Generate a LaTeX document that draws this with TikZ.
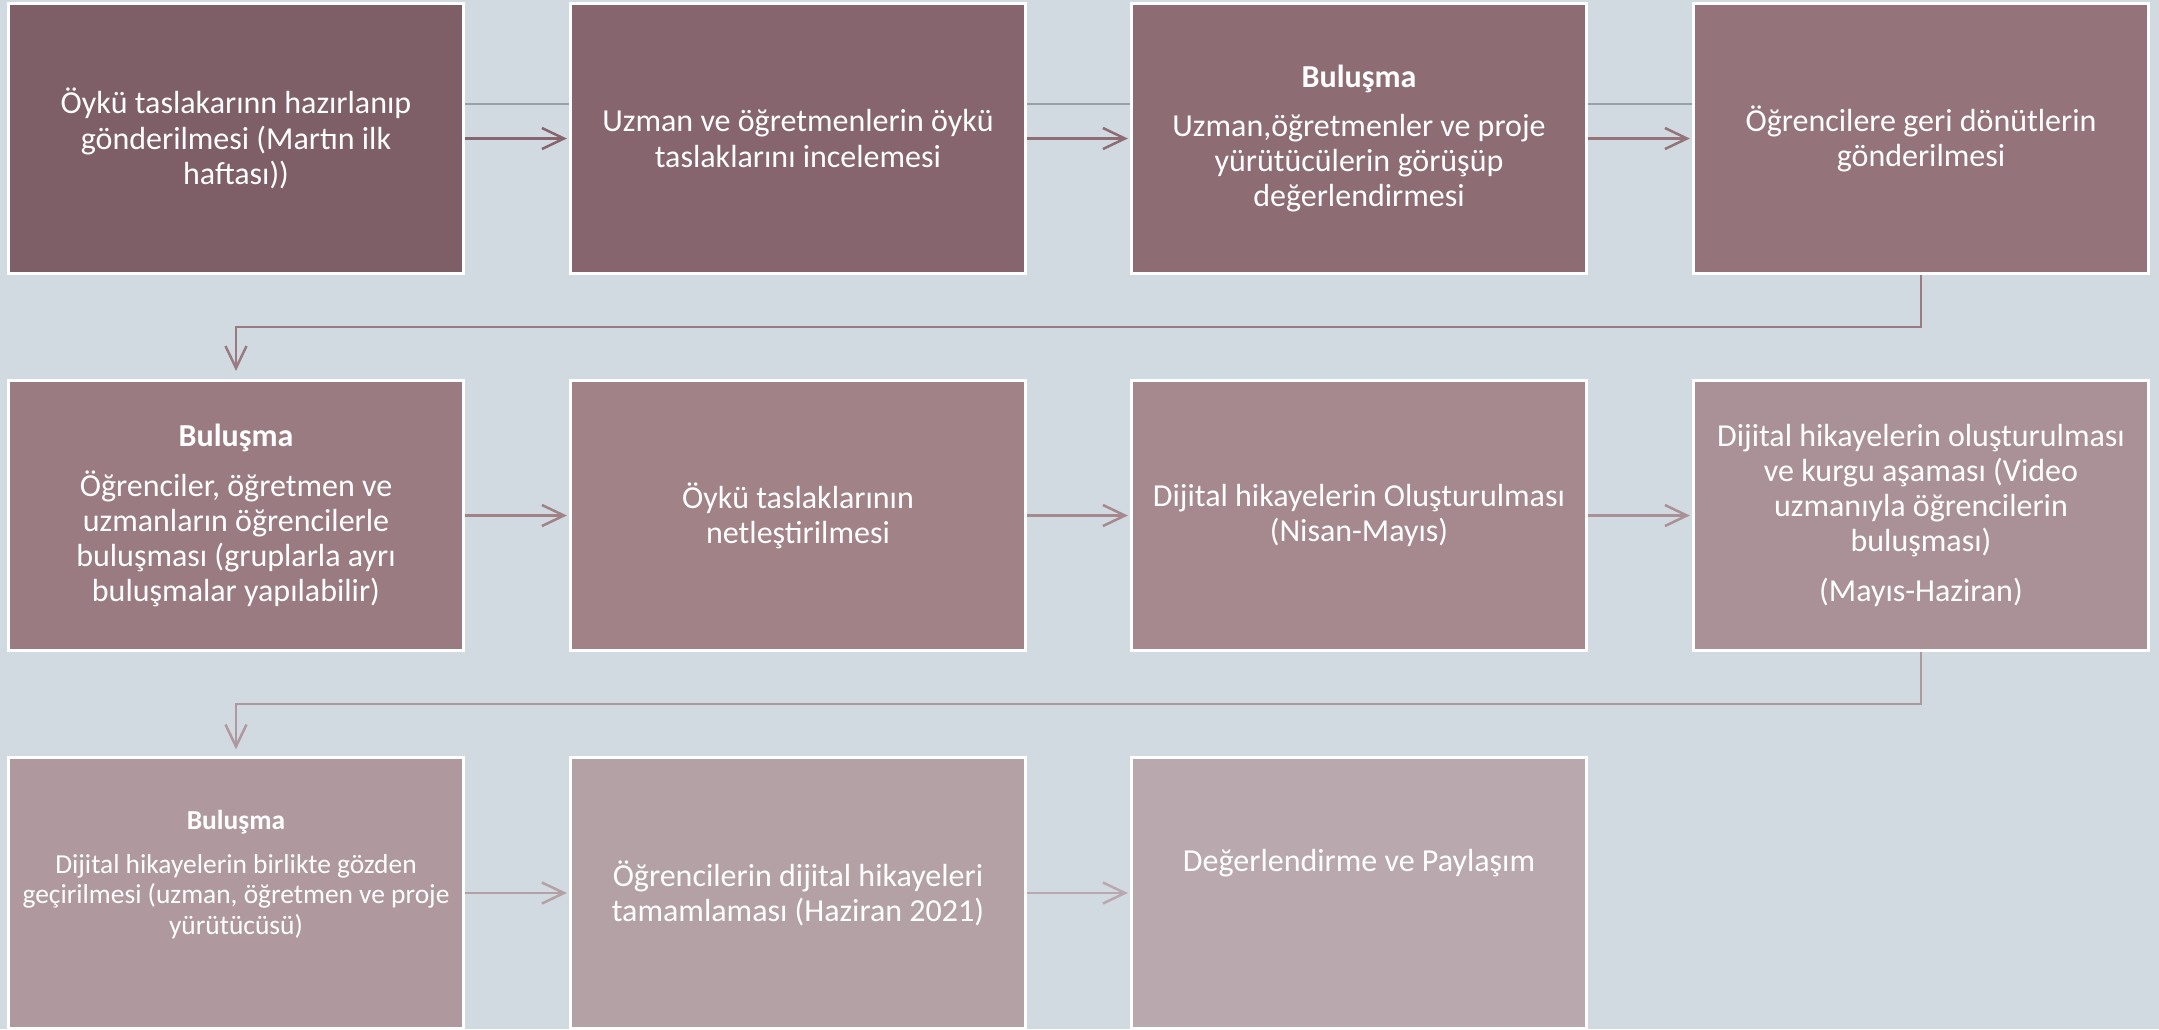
\documentclass[tikz,border=0pt]{standalone}
\usepackage{fontspec}
\setmainfont{Carlito}
\usetikzlibrary{arrows.meta}

\definecolor{bgc}{HTML}{D2DAE1}
\definecolor{gline}{HTML}{9AA0A7}
\definecolor{c1}{HTML}{7E5E67}
\definecolor{c2}{HTML}{86656E}
\definecolor{c3}{HTML}{8D6C74}
\definecolor{c4}{HTML}{94747A}
\definecolor{c5}{HTML}{9A7B81}
\definecolor{c6}{HTML}{A08287}
\definecolor{c7}{HTML}{A5898E}
\definecolor{c8}{HTML}{AA9197}
\definecolor{c9}{HTML}{AF999E}
\definecolor{c10}{HTML}{B4A1A5}
\definecolor{c11}{HTML}{B9A8AD}

\tikzset{
  stepbox/.style={draw=white, line width=0.03cm, minimum width=4.55cm, minimum height=2.70cm,
    align=center, text=white, font=\fontsize{9.1}{10}\selectfont},
  arr/.style={line width=0.025cm, -{Straight Barb[length=0.22cm,width=0.21cm]}},
}

\begin{document}
\begin{tikzpicture}[x=0.01cm,y=-0.01cm]
  \fill[bgc] (0,0) rectangle (2159,1029);
  \useasboundingbox (0,0) rectangle (2159,1029);
  % row 1
  \node[stepbox,fill=c1] (s1) at (236,138.5) {Öykü taslakarınn hazırlanıp\\gönderilmesi (Martın ilk\\haftası))};
  \node[stepbox,fill=c2] (s2) at (798,138.5) {Uzman ve öğretmenlerin öykü\\taslaklarını incelemesi};
  \node[stepbox,fill=c3] (s3) at (1359,138.5) {\textbf{Buluşma}\\[4pt]Uzman,öğretmenler ve proje\\yürütücülerin görüşüp\\değerlendirmesi};
  \node[stepbox,fill=c4] (s4) at (1921,138.5) {Öğrencilere geri dönütlerin\\gönderilmesi};
  % row 2
  \node[stepbox,fill=c5] (s5) at (236,515.5) {\textbf{Buluşma}\\[4.3pt]Öğrenciler, öğretmen ve\\uzmanların öğrencilerle\\buluşması (gruplarla ayrı\\buluşmalar yapılabilir)};
  \node[stepbox,fill=c6] (s6) at (798,515.5) {Öykü taslaklarının\\netleştirilmesi};
  \node[stepbox,fill=c7] (s7) at (1359,515.5) {Dijital hikayelerin Oluşturulması\\(Nisan-Mayıs)};
  \node[stepbox,fill=c8] (s8) at (1921,515.5) {Dijital hikayelerin oluşturulması\\ve kurgu aşaması (Video\\uzmanıyla öğrencilerin\\buluşması)\\[4.3pt](Mayıs-Haziran)};
  % row 3
  \node[stepbox,fill=c9,font=\fontsize{7.8}{8.7}\selectfont,text depth=0.42cm] (s9) at (236,893) {\textbf{Buluşma}\\[3.8pt]Dijital hikayelerin birlikte gözden\\geçirilmesi (uzman, öğretmen ve proje\\yürütücüsü)};
  \node[stepbox,fill=c10] (s10) at (798,893) {Öğrencilerin dijital hikayeleri\\tamamlaması (Haziran 2021)};
  \node[stepbox,fill=c11,text depth=0.66cm] (s11) at (1359,893) {Değerlendirme ve Paylaşım};

  \foreach \a/\b in {s1/s2,s2/s3,s3/s4}
    \draw[gline,line width=0.02cm] ([yshift=0.345cm]\a.east) -- ([yshift=0.345cm]\b.west);
  \foreach \a/\b/\c in {s1/s2/c2,s2/s3/c3,s3/s4/c4,s5/s6/c6,s6/s7/c7,s7/s8/c8,s9/s10/c10,s10/s11/c11}
    \draw[arr,\c,shorten >=0.02cm] (\a.east) -- (\b.west);
  \draw[arr,c5,shorten >=0.08cm] (s4.south) -- ++(0,52) -| (s5.north);
  \draw[arr,c9,shorten >=0.07cm] (s8.south) -- ++(0,52) -| (s9.north);
\end{tikzpicture}
\end{document}
